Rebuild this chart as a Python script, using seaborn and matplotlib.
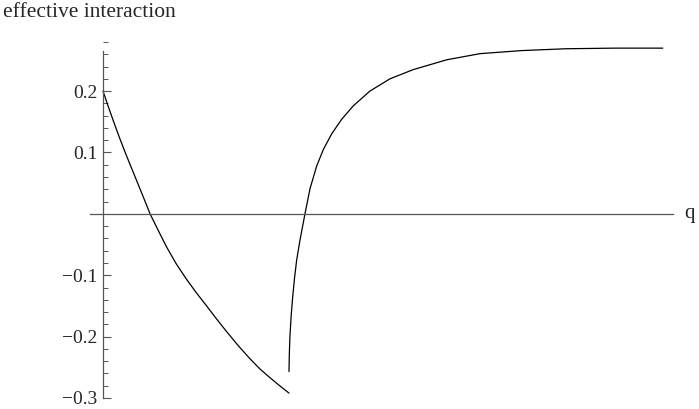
import numpy as np
import pandas as pd
import matplotlib
matplotlib.use("Agg")
import matplotlib.pyplot as plt
import seaborn as sns
from matplotlib.ticker import MultipleLocator, FuncFormatter

# curve below the jump
q_left = [0.0, 0.028, 0.055, 0.085, 0.118, 0.15, 0.181, 0.216, 0.253, 0.297, 0.342,
          0.395, 0.45, 0.503, 0.557, 0.61, 0.665, 0.728, 0.79, 0.845, 0.898, 0.95, 1.0]
v_left = [0.200, 0.175, 0.152, 0.127, 0.101, 0.077, 0.054, 0.028, 0.000, -0.027, -0.054,
          -0.082, -0.107, -0.129, -0.150, -0.171, -0.192, -0.215, -0.236, -0.253, -0.267,
          -0.280, -0.292]

# curve above the jump
q_right = [1.0, 1.002, 1.005, 1.012, 1.02, 1.03, 1.041, 1.059, 1.086, 1.113, 1.149,
           1.185, 1.229, 1.283, 1.346, 1.435, 1.543, 1.668, 1.848, 2.027, 2.25, 2.49,
           2.75, 3.01]
v_right = [-0.257, -0.228, -0.200, -0.165, -0.135, -0.104, -0.076, -0.043, 0.000, 0.041,
           0.078, 0.105, 0.130, 0.154, 0.176, 0.200, 0.220, 0.235, 0.251, 0.261, 0.266,
           0.269, 0.270, 0.270]

y_ticks = [-0.3, -0.2, -0.1, 0.1, 0.2]

sns.set_style("white")
plt.rcParams["font.family"] = ["Liberation Serif", "DejaVu Serif"]

fig = plt.figure(figsize=(6.99, 4.09), dpi=100)
ax = fig.add_axes([90 / 699, 11 / 409, 583 / 699, 356 / 409])

left = pd.DataFrame({"q": q_left, "v": v_left})
right = pd.DataFrame({"q": q_right, "v": v_right})
sns.lineplot(data=left, x="q", y="v", ax=ax, color="black", lw=0.9, sort=False)
sns.lineplot(data=right, x="q", y="v", ax=ax, color="black", lw=0.9, sort=False)

ax.set_xlim(-0.07, 3.065)
ax.set_ylim(-0.3, 0.28)
ax.set_xlabel("")
ax.set_ylabel("")

# Mathematica style axes crossing at the origin
for s in ["top", "right"]:
    ax.spines[s].set_visible(False)
ax.spines["left"].set_position(("data", 0))
ax.spines["bottom"].set_position(("data", 0))
ax.spines["left"].set_bounds(-0.3, 0.265)
for s in ["left", "bottom"]:
    ax.spines[s].set_color("#555555")
    ax.spines[s].set_linewidth(0.9)

ax.set_xticks([])
ax.set_yticks(y_ticks)
ax.yaxis.set_minor_locator(MultipleLocator(0.02))
ax.yaxis.set_major_formatter(FuncFormatter(lambda v, p: f"{v:.1f}".replace("-", "\u2212")))
ax.tick_params(axis="y", which="major", direction="in", length=6, width=0.8,
               color="#555555", labelsize=14, pad=4, left=True)
ax.tick_params(axis="y", which="minor", direction="in", length=3.5, width=0.7,
               color="#555555", left=True)

ax.text(3.125, 0.0, "q", fontsize=15, va="center", ha="left", clip_on=False)
fig.text(3 / 699, 1 - 3 / 409, "effective interaction", fontsize=15.5, va="top", ha="left")

fig.savefig("out.png", dpi=100)
